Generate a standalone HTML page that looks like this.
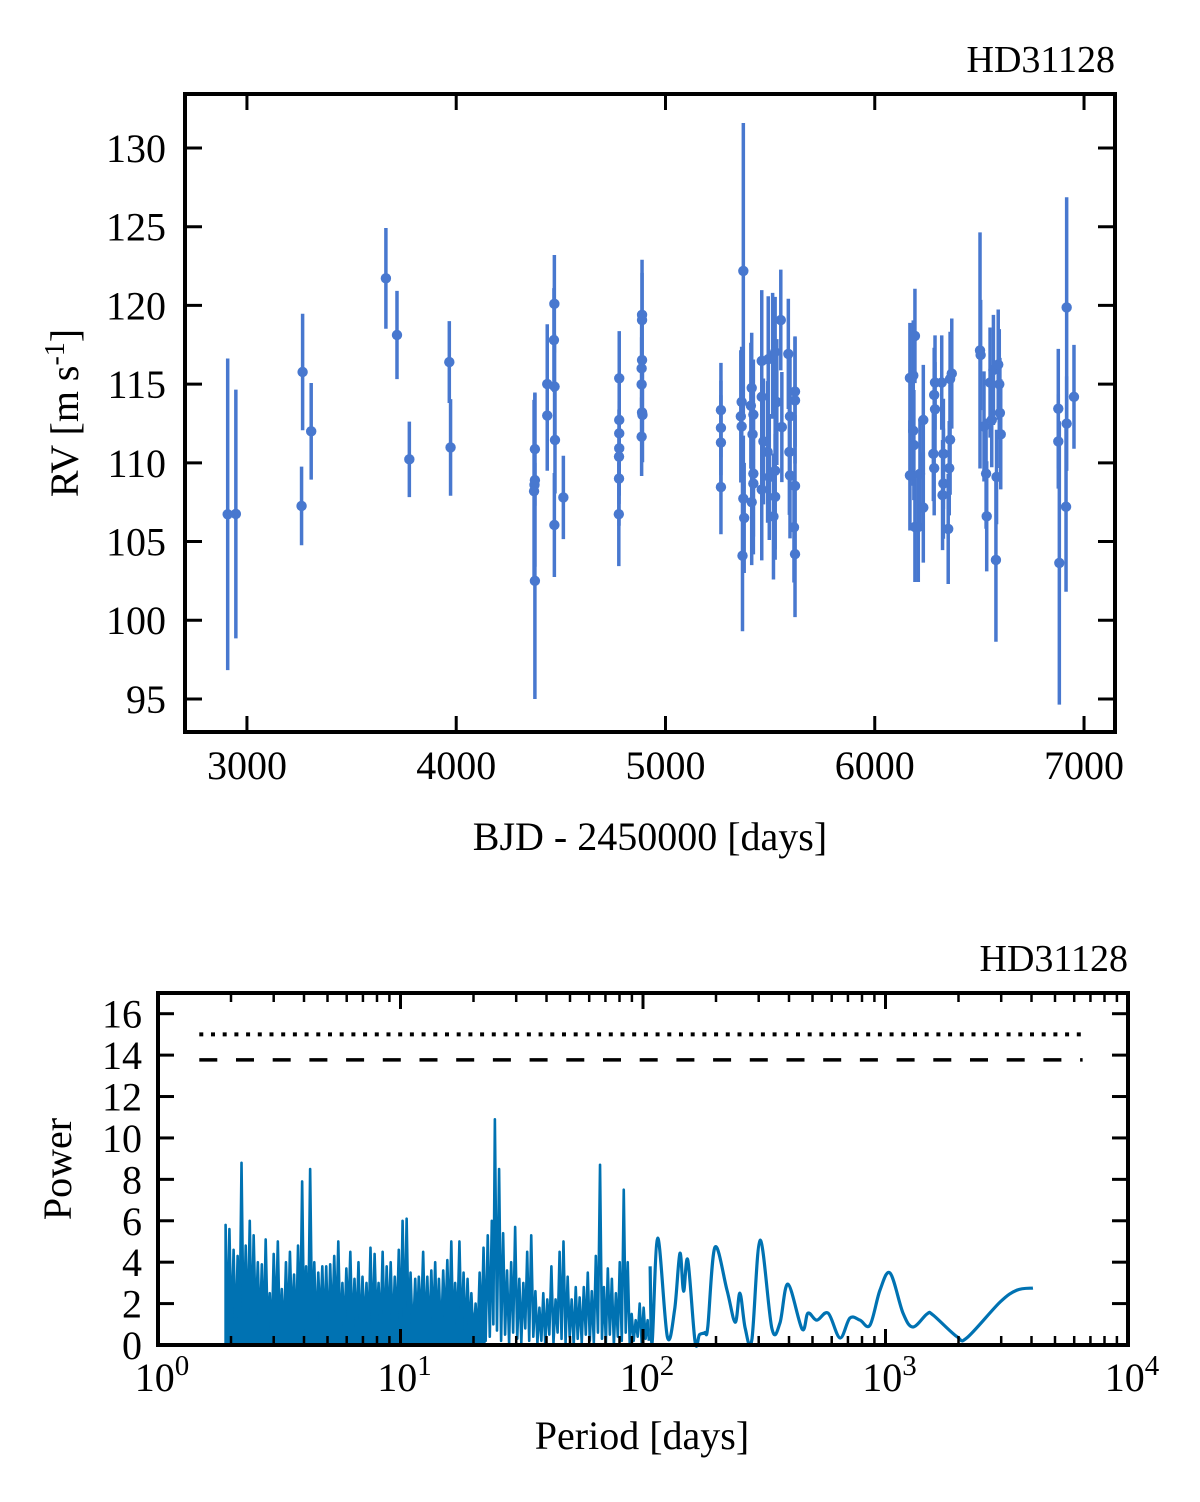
<!DOCTYPE html>
<html><head><meta charset="utf-8">
<style>
html,body{margin:0;padding:0;background:#fff;}
svg{display:block;}
text{font-family:"Liberation Serif",serif;fill:#000;}
</style></head>
<body>
<svg id="fig" width="1200" height="1502" viewBox="0 0 1200 1502" xmlns="http://www.w3.org/2000/svg">
<g id="topPanel"></g>
<g id="botPanel"></g>
</svg>
<script>
// ---- RV data ----
const rvTimes=[2908,2947,3266,3261,3307,3664,3717,3776,3967,3973,4376,4376,4376,4374,4372,4435,4435,4469,4467,4470,4472,4469,4512,4779,4779,4779,4779,4778,4778,4777,4888,4888,4888,4886,4886,4888,4890,4886,5265,5265,5265,5265,5372,5364,5360,5364,5372,5376,5368,5412,5408,5420,5416,5420,5420,5412,5460,5460,5468,5460,5491,5488,5496,5512,5524,5532,5524,5524,5516,5551,5556,5587,5595,5592,5595,5619,5619,5619,5614,5619,6168,6184,6192,6168,6184,6187,6192,6208,6232,6232,6216,6288,6284,6288,6280,6284,6320,6328,6328,6324,6351,6368,6360,6360,6356,6503,6506,6522,6532,6535,6551,6559,6567,6579,6590,6595,6598,6602,6582,6877,6877,6882,6917,6917,6914,6952];
const rvValues=[106.73,106.75,115.77,107.26,112.0,121.72,118.12,110.22,116.4,110.98,102.5,110.87,108.9,108.6,108.2,115.0,113.0,120.1,117.8,114.84,111.45,106.05,107.8,115.37,112.72,111.87,110.92,110.39,109.0,106.74,119.4,119.07,116.53,116.0,114.98,113.2,113.04,111.66,113.35,112.22,111.29,108.46,122.19,113.87,112.95,112.31,107.73,106.5,104.1,114.76,113.63,113.06,111.81,109.31,108.68,107.5,116.47,114.19,111.36,108.3,116.58,110.69,109.1,116.8,117.04,113.86,109.5,107.84,106.59,119.07,112.27,116.92,112.95,110.69,109.2,114.53,113.96,108.53,105.9,104.2,115.39,115.55,118.06,109.2,112.04,111.13,105.93,105.93,112.72,107.16,109.3,115.1,114.31,113.4,110.57,109.66,115.1,110.57,108.68,107.95,105.8,115.67,115.33,111.47,109.66,117.14,116.85,112.31,109.31,106.6,115.1,112.72,115.9,103.83,116.24,114.99,113.17,111.81,109.1,113.44,111.36,103.64,119.87,112.49,107.21,114.19];
const rvErrors=[9.9,7.9,3.7,2.5,3.07,3.2,2.8,2.4,2.6,3.07,7.5,3.6,5.5,4.0,5.8,3.8,3.5,3.1,3.3,3.3,3.4,3.3,2.65,3.0,3.0,3.0,3.0,3.0,3.0,3.3,3.5,3.0,3.0,3.0,3.0,3.0,3.0,2.5,3.0,3.0,3.0,3.0,9.4,3.5,4.2,3.5,4.0,3.5,4.8,3.5,4.0,3.5,4.5,4.0,4.5,4.0,4.5,3.5,4.0,4.5,4.0,4.5,4.0,4.0,3.5,4.0,5.0,4.0,4.0,3.2,3.5,3.5,4.0,4.0,4.0,3.5,4.0,4.5,3.5,4.0,3.5,3.5,3.0,3.5,3.5,3.5,3.5,3.5,3.5,3.5,3.5,3.0,3.0,3.0,3.0,3.0,3.0,3.5,3.5,3.5,3.5,3.5,3.0,3.5,3.0,7.5,3.5,3.5,3.5,3.5,3.5,3.0,3.5,5.2,3.5,3.5,3.5,3.5,3.0,3.8,3.0,9.0,7.0,3.0,5.4,3.3];
const rvXTicks=[3000,4000,5000,6000,7000];
const rvYTicks=[95,100,105,110,115,120,125,130];

// ---- Periodogram data ----
const densePeriods=[1.90,1.97,2.05,2.13,2.21,2.30,2.39,2.48,2.58,2.68,2.78,2.89,3.00,3.12,3.24,3.37,3.50,3.64,3.78,3.93,4.08,4.24,4.41,4.58,4.76,4.94,5.13,5.33,5.54,5.76,5.98,6.21,6.46,6.71,6.97,7.24,7.52,7.82,8.12,8.44,8.77,9.11,9.47,9.84,10.2,10.6,11.0,11.5,11.9,12.4,12.9,13.4,13.9,14.4,15.0,15.6,16.2,16.8,17.5,18.2,18.9,19.6,20.4,21.2,22.0,22.9,23.8,24.5,25.5,26.5,27.5,28.6,29.7,30.9,32.1,33.3,34.6,36.0,37.4,38.8,40.3,41.9,43.6,45.3,47.0,48.9,50.8,52.8,54.8,57.0,59.2,61.5,63.9,66.5,69.0,71.6,74.4,77.3,80.2,83.3,86.5,89.8,93.3,96.9,100.6,104.5];
const densePeaks=[5.8,5.6,4.6,4.3,8.8,4.8,6.0,5.3,4.0,3.9,5.1,2.5,4.4,5.0,2.7,4.0,4.5,3.4,4.8,7.9,3.8,8.5,4.0,3.5,3.8,3.8,3.9,4.3,5.0,3.0,3.7,4.5,3.2,4.0,3.3,3.0,4.7,4.4,3.0,4.5,3.8,4.0,3.3,4.6,6.0,6.1,3.5,3.2,3.3,4.5,3.3,3.6,4.0,3.2,3.6,4.1,5.0,3.0,5.0,3.5,3.2,2.5,2.0,3.5,4.7,5.3,6.0,10.9,8.5,5.4,3.6,4.0,5.7,3.2,3.0,4.5,5.3,2.6,1.8,2.5,2.2,3.8,2.2,4.5,5.0,3.3,2.2,2.8,2.3,2.8,3.5,2.6,4.3,8.7,2.8,3.7,3.2,2.5,4.0,7.5,4.0,1.5,1.2,2.0,1.8,1.2];
const denseLows=[0.3,0.5,0.2,0.8,0.4,0.6,0.2,1.0,0.5,0.3,0.7,0.2,0.9,0.4,0.3,0.6,1.0,0.2,0.5,0.8,0.3,0.6,0.4,1.1,0.5,0.2,0.7,0.9,0.3,0.5,1.2,0.4,0.6,0.2,0.8,0.5,0.3,1.0,0.6,0.2,0.7,0.4,0.9,0.3,0.5,0.8,0.2,0.6,1.0,0.4,0.3,0.7,0.5,0.2,0.9,0.6,0.3,0.8,0.4,0.2,0.5,0.1,0.3,0.6,0.2,0.4,1.0,0.7,0.2,0.5,0.1,0.6,0.3,0.1,0.8,0.2,0.4,0.1,0.2,0.0,0.5,0.1,0.6,0.3,0.1,0.4,0.0,0.3,0.1,0.5,0.2,0.1,0.6,0.3,0.1,0.5,0.0,0.4,0.2,0.6,0.1,0.2,0.4,0.1,0.3,0.2];
const smoothPeriods=[107,109,115,126,135,142,147,153,164,171,180,185,198,222,240,251,264,281,304,340,367,396,453,479,521,580,649,713,785,863,949,1045,1181,1298,1483,1570,1972,2168,2966,3485,4055];
const smoothPowers=[3.8,0.1,5.16,0.4,1.7,4.43,2.6,4.1,0.15,0.5,0.6,0.87,4.72,2.65,1.1,2.5,0.8,0.24,5.06,0.8,1.06,2.94,0.77,1.54,1.2,1.54,0.34,1.3,1.2,0.96,2.65,3.47,1.54,0.87,1.5,1.45,0.4,0.35,2.07,2.65,2.75];
const fapLevels=[15.0,13.77];
const fapRange=[1.48,6500];
const pYTicks=[0,2,4,6,8,10,12,14,16];
const pXDecades=[0,1,2,3,4];

const NS="http://www.w3.org/2000/svg";
function mk(parent,tag,attrs){const e=document.createElementNS(NS,tag);for(const k in attrs)e.setAttribute(k,attrs[k]);parent.appendChild(e);return e;}

// ===== Top panel =====
const topG=document.getElementById('topPanel');
const T={l:185,r:1115,t:94,b:732,x0:2704,x1:7148,y0:92.9,y1:133.43};
const tx=v=>T.l+(v-T.x0)/(T.x1-T.x0)*(T.r-T.l);
const ty=v=>T.b-(v-T.y0)/(T.y1-T.y0)*(T.b-T.t);
const col='#4878cf';
const errG=mk(topG,'g',{});


rvTimes.forEach((t,i)=>{
  const ln=mk(errG,'line',{x1:tx(t),x2:tx(t),y1:ty(rvValues[i]-rvErrors[i]),y2:ty(rvValues[i]+rvErrors[i]),stroke:col,'stroke-width':3.5});
  
  
});
const ptG=mk(topG,'g',{});


rvTimes.forEach((t,i)=>{
  const c=mk(ptG,'circle',{cx:tx(t),cy:ty(rvValues[i]),r:5.2,fill:col});
  
  
});
const topFrame=mk(topG,'rect',{x:T.l,y:T.t,width:T.r-T.l,height:T.b-T.t,fill:'none',stroke:'#000','stroke-width':4});


rvXTicks.forEach(v=>{
  const x=tx(v);
  mk(topG,'line',{x1:x,x2:x,y1:T.b,y2:T.b-16,stroke:'#000','stroke-width':3});
  mk(topG,'line',{x1:x,x2:x,y1:T.t,y2:T.t+16,stroke:'#000','stroke-width':3});
  const tl=mk(topG,'text',{x:x,y:779,'font-size':40,'text-anchor':'middle'});
  tl.textContent=v;
  
  
});
rvYTicks.forEach(v=>{
  const y=ty(v);
  mk(topG,'line',{x1:T.l,x2:T.l+17,y1:y,y2:y,stroke:'#000','stroke-width':3});
  mk(topG,'line',{x1:T.r,x2:T.r-17,y1:y,y2:y,stroke:'#000','stroke-width':3});
  const tl=mk(topG,'text',{x:166,y:y+14,'font-size':40,'text-anchor':'end'});
  tl.textContent=v;
  
  
});

// ===== Bottom panel =====
const botG=document.getElementById('botPanel');
const B={l:158,r:1128,t:993,b:1345,y0:0,y1:17};
const bx=p=>B.l+Math.log10(p)/4*(B.r-B.l);
const by=v=>B.b-(v-B.y0)/(B.y1-B.y0)*(B.b-B.t);
const pcol='#0072b2';
let pts=[];
densePeriods.forEach((p,i)=>{
  pts.push([bx(p),by(densePeaks[i])]);
  const nxt=i<densePeriods.length-1?densePeriods[i+1]:smoothPeriods[0];
  pts.push([bx(Math.sqrt(p*nxt)),by(denseLows[i])]);
});
const fillPts=[];
densePeriods.forEach((p,i)=>{ if(p<=22){ fillPts.push([bx(p),by(densePeaks[i])]); const nxt=densePeriods[i+1]; fillPts.push([bx(Math.sqrt(p*nxt)),by(Math.max(denseLows[i],1.5))]); }});
const fpath='M'+bx(densePeriods[0])+','+by(0)+' L'+fillPts.map(q=>q.join(',')).join(' L')+' L'+fillPts[fillPts.length-1][0]+','+by(0)+' Z';
const fill=mk(botG,'path',{d:fpath,fill:pcol,stroke:'none'});


const dpath='M'+bx(densePeriods[0])+','+by(0)+' L'+pts.map(q=>q.join(',')).join(' L');
const dense=mk(botG,'path',{d:dpath,fill:'none',stroke:pcol,'stroke-width':2.6,'stroke-linejoin':'round'});


const sp=smoothPeriods.map((p,i)=>[bx(p),by(smoothPowers[i])]);
let sd='M'+sp[0].join(',');
for(let i=0;i<sp.length-1;i++){
  const p0=sp[Math.max(0,i-1)],p1=sp[i],p2=sp[i+1],p3=sp[Math.min(sp.length-1,i+2)];
  const c1=[p1[0]+(p2[0]-p0[0])/6,p1[1]+(p2[1]-p0[1])/6];
  const c2=[p2[0]-(p3[0]-p1[0])/6,p2[1]-(p3[1]-p1[1])/6];
  sd+=' C'+c1.join(',')+' '+c2.join(',')+' '+p2.join(',');
}
const smooth=mk(botG,'path',{d:sd,fill:'none',stroke:pcol,'stroke-width':3.2});


const dot=mk(botG,'line',{x1:bx(fapRange[0]),x2:bx(fapRange[1]),y1:by(fapLevels[0]),y2:by(fapLevels[0]),stroke:'#000','stroke-width':4,'stroke-dasharray':'4 7.7'});


const dash=mk(botG,'line',{x1:bx(fapRange[0]),x2:bx(fapRange[1]),y1:by(fapLevels[1]),y2:by(fapLevels[1]),stroke:'#000','stroke-width':3.5,'stroke-dasharray':'18 18.7'});


const botFrame=mk(botG,'rect',{x:B.l,y:B.t,width:B.r-B.l,height:B.b-B.t,fill:'none',stroke:'#000','stroke-width':4});


pXDecades.forEach(d=>{
  const x=bx(Math.pow(10,d));
  mk(botG,'line',{x1:x,x2:x,y1:B.b,y2:B.b-16,stroke:'#000','stroke-width':3});
  mk(botG,'line',{x1:x,x2:x,y1:B.t,y2:B.t+16,stroke:'#000','stroke-width':3});
  const tl=mk(botG,'text',{x:x+4,y:1391,'font-size':40,'text-anchor':'middle'});
  
  
  const a=mk(tl,'tspan',{});a.textContent='10';
  const s=mk(tl,'tspan',{dy:-16,'font-size':29});s.textContent=String(d);
  if(d<4){for(let m=2;m<=9;m++){const xm=bx(m*Math.pow(10,d));
    mk(botG,'line',{x1:xm,x2:xm,y1:B.b,y2:B.b-9,stroke:'#000','stroke-width':2.5});
    mk(botG,'line',{x1:xm,x2:xm,y1:B.t,y2:B.t+9,stroke:'#000','stroke-width':2.5});}}
});
pYTicks.forEach(v=>{
  const y=by(v);
  mk(botG,'line',{x1:B.l,x2:B.l+16,y1:y,y2:y,stroke:'#000','stroke-width':3});
  mk(botG,'line',{x1:B.r,x2:B.r-16,y1:y,y2:y,stroke:'#000','stroke-width':3});
  const tl=mk(botG,'text',{x:142,y:y+14,'font-size':40,'text-anchor':'end'});
  tl.textContent=v;
  
  
});
</script>
<div style="position:absolute;left:0;top:0;width:1200px;height:1502px;pointer-events:none">
<svg width="1200" height="1502" xmlns="http://www.w3.org/2000/svg">
<text x="1115" y="72" font-size="38" text-anchor="end">HD31128</text>
<text transform="translate(78,413) rotate(-90)" font-size="40" text-anchor="middle">RV [m s<tspan dy="-14" font-size="28">-1</tspan><tspan dy="14">]</tspan></text>
<text x="650" y="850" font-size="40" text-anchor="middle">BJD - 2450000 [days]</text>
<text x="1128" y="971" font-size="38" text-anchor="end">HD31128</text>
<text transform="translate(71,1169) rotate(-90)" font-size="40" text-anchor="middle">Power</text>
<text x="642" y="1449" font-size="40" text-anchor="middle">Period [days]</text>
</svg></div>
</body></html>
